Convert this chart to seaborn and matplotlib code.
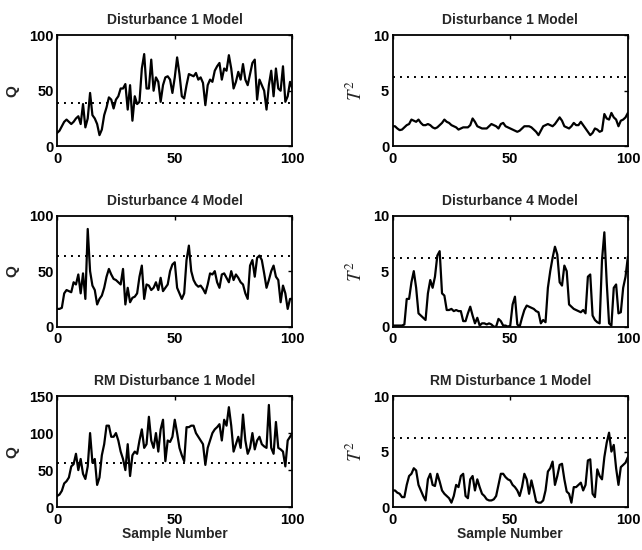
import numpy as np
import pandas as pd
import matplotlib
matplotlib.use("Agg")
import matplotlib.pyplot as plt
import seaborn as sns

samples = list(range(101))

q_dist1 = [12, 14, 18, 22, 24, 22, 20, 22, 25, 27, 20, 38, 17, 25, 48, 28, 25, 20, 10, 15,
           28, 35, 44, 42, 34, 42, 45, 52, 52, 56, 33, 55, 23, 45, 38, 40, 70, 83, 52, 52,
           78, 50, 62, 58, 40, 55, 62, 63, 60, 48, 62, 80, 65, 45, 43, 55, 65, 64, 63, 66,
           60, 62, 57, 37, 55, 60, 58, 68, 72, 75, 60, 70, 68, 82, 70, 52, 58, 67, 60, 74,
           60, 55, 65, 75, 78, 42, 60, 55, 50, 33, 55, 68, 45, 70, 52, 50, 72, 40, 45, 58, 52]

t2_dist1 = [1.8, 1.8, 1.6, 1.45, 1.5, 1.7, 1.9, 2.0, 2.4, 2.3, 2.2, 2.4, 2.1, 1.9, 1.9, 2.0, 1.9, 1.7, 1.6, 1.7,
            1.9, 2.1, 2.4, 2.2, 2.1, 1.9, 1.8, 1.7, 1.5, 1.6, 1.7, 1.7, 1.7, 1.9, 2.5, 2.2, 1.8, 1.7, 1.6, 1.6,
            1.6, 1.8, 2.0, 1.9, 1.8, 1.6, 2.0, 2.1, 1.8, 1.7, 1.6, 1.5, 1.4, 1.3, 1.4, 1.6, 1.8, 1.8, 1.8, 1.7,
            1.5, 1.3, 1.0, 1.4, 1.8, 1.9, 2.0, 1.9, 1.8, 2.0, 2.3, 2.6, 2.3, 1.8, 1.7, 1.6, 1.8, 2.1, 1.9, 1.9,
            2.2, 1.9, 1.6, 1.3, 1.0, 1.2, 1.6, 1.5, 1.3, 1.4, 2.9, 2.5, 2.4, 3.0, 2.6, 2.4, 1.8, 2.3, 2.4, 2.6, 3.0]

q_dist4 = [16, 16, 17, 30, 33, 32, 31, 40, 38, 47, 30, 48, 25, 88, 50, 37, 33, 20, 25, 28,
           35, 45, 52, 47, 43, 42, 40, 38, 52, 20, 35, 22, 26, 27, 30, 45, 55, 25, 38, 37,
           33, 35, 40, 33, 44, 32, 35, 38, 50, 56, 58, 35, 30, 25, 30, 60, 73, 50, 42, 38,
           36, 37, 34, 30, 38, 48, 47, 50, 40, 35, 47, 48, 44, 40, 50, 42, 47, 44, 40, 38,
           30, 25, 55, 60, 45, 62, 64, 60, 48, 35, 42, 50, 55, 45, 42, 22, 37, 30, 16, 25, 25]

t2_dist4 = [0.1, 0.1, 0.1, 0.1, 0.1, 0.2, 2.5, 2.5, 4.0, 5.0, 3.5, 1.2, 1.0, 0.8, 0.6, 3.0, 4.2, 3.5, 4.5, 6.4,
            6.8, 3.0, 2.8, 1.5, 1.5, 1.6, 1.4, 1.5, 1.4, 1.4, 0.5, 0.5, 1.2, 1.8, 1.0, 0.3, 0.8, 0.1, 0.3, 0.3,
            0.2, 0.3, 0.2, 0.0, 0.0, 0.7, 0.5, 0.1, 0.1, 0.0, 0.1, 2.0, 2.7, 0.2, 0.0, 0.8, 1.5, 1.9, 1.8, 1.7,
            1.6, 1.4, 1.3, 0.3, 0.6, 0.4, 3.5, 5.0, 6.2, 7.2, 6.5, 4.0, 3.7, 5.5, 5.0, 2.0, 1.8, 1.6, 1.5, 1.4,
            1.3, 1.5, 1.2, 4.5, 4.7, 1.0, 0.6, 0.4, 0.3, 6.0, 8.5, 4.0, 0.3, 0.1, 3.5, 3.8, 1.2, 1.3, 3.5, 4.5, 6.3]

q_rm1 = [15, 17, 22, 32, 35, 40, 55, 58, 72, 50, 65, 45, 38, 55, 100, 60, 65, 30, 40, 70,
         85, 110, 110, 95, 95, 100, 90, 75, 65, 50, 85, 42, 70, 75, 72, 90, 105, 80, 85, 122,
         90, 80, 100, 75, 105, 118, 62, 90, 88, 95, 118, 100, 80, 70, 62, 108, 108, 110, 110, 100,
         95, 90, 85, 57, 80, 90, 100, 105, 108, 112, 90, 118, 110, 135, 110, 75, 85, 95, 80, 125,
         90, 72, 80, 100, 78, 90, 95, 85, 82, 80, 138, 80, 72, 115, 80, 78, 75, 55, 90, 95, 100]

t2_rm1 = [1.5, 1.5, 1.3, 1.2, 0.9, 0.9, 2.0, 2.8, 3.0, 3.5, 3.3, 2.0, 1.5, 1.0, 0.6, 2.5, 3.0, 2.0, 1.9, 3.0,
          2.3, 1.5, 1.2, 1.0, 0.8, 0.4, 1.0, 2.0, 1.8, 2.8, 3.0, 1.0, 0.8, 2.5, 2.8, 1.5, 2.5, 1.8, 1.2, 1.0,
          0.7, 0.6, 0.6, 0.7, 1.0, 2.0, 3.0, 3.0, 2.7, 2.5, 2.4, 2.0, 1.8, 1.5, 1.0, 1.8, 3.0, 2.5, 1.2, 2.4,
          1.5, 0.5, 0.4, 0.4, 0.6, 1.5, 3.2, 3.5, 4.1, 2.0, 2.8, 3.8, 3.9, 2.5, 1.4, 1.2, 0.4, 1.8, 1.8, 2.0,
          2.2, 1.5, 2.0, 4.2, 4.3, 1.2, 0.9, 3.4, 2.8, 2.5, 4.5, 5.8, 6.7, 5.0, 5.6, 3.5, 2.0, 3.6, 3.8, 4.0, 4.5]

titles = ["Disturbance 1 Model", "Disturbance 1 Model",
          "Disturbance 4 Model", "Disturbance 4 Model",
          "RM Disturbance 1 Model", "RM Disturbance 1 Model"]
series = [q_dist1, t2_dist1, q_dist4, t2_dist4, q_rm1, t2_rm1]
limits = [39, 6.25, 64, 6.17, 60, 6.2]
ylabels = ["Q", r"$T^2$", "Q", r"$T^2$", "Q", r"$T^2$"]
ymax = [100, 10, 100, 10, 150, 10]
yticks = [[0, 50, 100], [0, 5, 10], [0, 50, 100], [0, 5, 10], [0, 50, 100, 150], [0, 5, 10]]
xticks = [0, 50, 100]

sns.set_theme(style="white")
plt.rcParams['font.family'] = ['Liberation Sans', 'DejaVu Sans']
plt.rcParams['mathtext.fontset'] = 'stix'
plt.rcParams['axes.linewidth'] = 1.3
plt.rcParams['axes.edgecolor'] = 'black'

fig, axes = plt.subplots(3, 2, figsize=(6.42, 5.5), dpi=100)
fig.subplots_adjust(left=0.089, right=0.978, top=0.936, bottom=0.078, wspace=0.426, hspace=0.625)

for i, ax in enumerate(axes.flat):
    df = pd.DataFrame({"x": samples, "y": series[i]})
    sns.lineplot(data=df, x="x", y="y", ax=ax, color="black", linewidth=1.6)
    lim = pd.DataFrame({"x": samples, "y": [limits[i]] * len(samples)})
    sns.lineplot(data=lim, x="x", y="y", ax=ax, color="black", linewidth=1.4,
                 linestyle=(0, (1, 2.6)))
    ax.set_xlim(0, 100)
    ax.set_ylim(0, ymax[i])
    ax.set_xticks(xticks)
    ax.set_yticks(yticks[i])
    ax.tick_params(direction="in", top=True, right=True, length=3, width=1,
                   labelsize=10.5, colors="black", pad=2.5)
    ax.tick_params(axis="x", pad=4)
    for lab in ax.get_xticklabels() + ax.get_yticklabels():
        lab.set_fontweight("bold")
    ax.set_title(titles[i], fontsize=10, fontweight="bold", pad=8)
    if i % 2 == 1:
        ax.set_ylabel(ylabels[i], fontsize=13.5, labelpad=5)
    else:
        ax.set_ylabel(ylabels[i], fontsize=11, fontweight="bold", labelpad=7)
    if i >= 4:
        ax.set_xlabel("Sample Number", fontsize=10, fontweight="bold", labelpad=0)
    else:
        ax.set_xlabel("")
    for sp in ax.spines.values():
        sp.set_visible(True)
        sp.set_color("black")

fig.savefig("out.png", dpi=100)
